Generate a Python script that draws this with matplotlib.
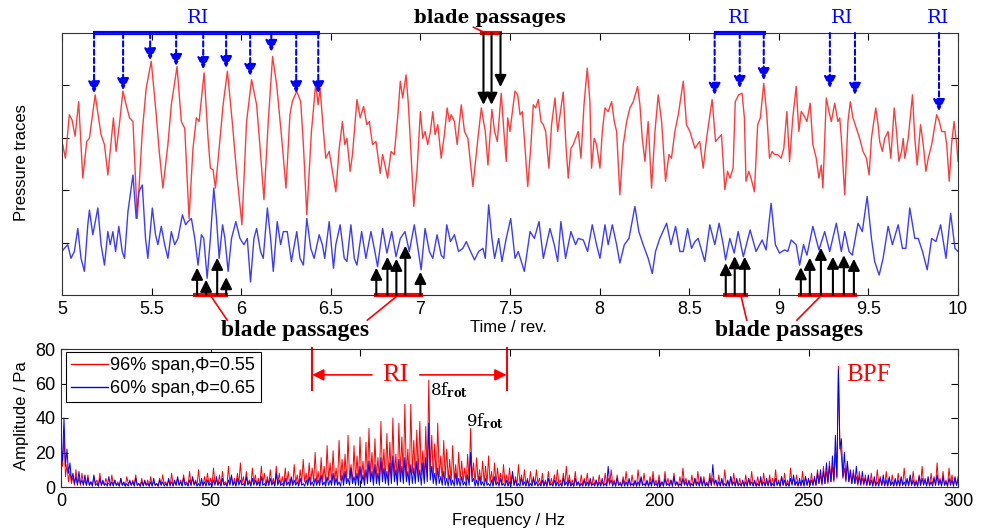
import numpy as np
import matplotlib
matplotlib.use('Agg')
import matplotlib.pyplot as plt

# ---------------- datos: trazas de presion (t en rev, presion en unidades arbitrarias) ----------------
red_trace = [
    (5.004, 2.87), (5.019, 2.61), (5.041, 3.44), (5.056, 3.34), (5.073, 3.03), (5.093, 3.69), (5.116, 2.23),
    (5.138, 2.93), (5.153, 2.99), (5.185, 3.82), (5.218, 3.06), (5.237, 2.87), (5.256, 2.29), (5.287, 3.38),
    (5.302, 2.74), (5.321, 3.28), (5.340, 3.89), (5.358, 3.63), (5.377, 3.38), (5.396, 3.31), (5.420, 1.46),
    (5.448, 3.12), (5.470, 3.95), (5.498, 4.46), (5.526, 3.44), (5.541, 2.80), (5.563, 2.04), (5.591, 2.87),
    (5.610, 3.63), (5.642, 4.36), (5.666, 3.31), (5.685, 3.18), (5.709, 1.46), (5.731, 2.80), (5.750, 3.38),
    (5.765, 3.31), (5.793, 4.24), (5.815, 2.99), (5.828, 2.42), (5.843, 2.39), (5.856, 2.04), (5.877, 2.80),
    (5.899, 3.63), (5.923, 4.27), (5.950, 3.31), (5.974, 2.36), (6.004, 1.34), (6.030, 3.31), (6.058, 4.11),
    (6.086, 3.63), (6.104, 2.87), (6.127, 1.82), (6.151, 3.31), (6.175, 4.55), (6.198, 4.01), (6.226, 2.99),
    (6.250, 2.04), (6.272, 3.44),
    (6.285, 3.69), (6.310, 3.89), (6.332, 3.69), (6.347, 2.87), (6.366, 1.53), (6.392, 3.12), (6.416, 4.04),
    (6.429, 3.63), (6.440, 3.95), (6.459, 3.12), (6.472, 2.61), (6.491, 2.74), (6.500, 2.55), (6.528, 1.97),
    (6.547, 2.80), (6.565, 3.31), (6.578, 2.87), (6.590, 2.99), (6.608, 2.36), (6.621, 2.68), (6.646, 3.73),
    (6.664, 3.38), (6.683, 3.60), (6.701, 3.25), (6.715, 3.31), (6.733, 2.87), (6.752, 2.93), (6.776, 2.32),
    (6.789, 2.68), (6.802, 2.48), (6.817, 2.23), (6.836, 2.74), (6.854, 2.68), (6.873, 3.38), (6.888, 4.08),
    (6.901, 3.76), (6.920, 4.20), (6.933, 3.63), (6.948, 2.68), (6.963, 1.69), (6.981, 2.36), (7.000, 3.50),
    (7.013, 2.99), (7.026, 3.12), (7.041, 2.87), (7.056, 3.12), (7.069, 3.50), (7.082, 3.06), (7.097, 3.25),
    (7.116, 2.61), (7.134, 3.06), (7.149, 3.57), (7.162, 3.31), (7.172, 3.44), (7.190, 3.31), (7.205, 2.87),
    (7.228, 3.63), (7.246, 3.12), (7.265, 2.99), (7.293, 2.07), (7.321, 2.99), (7.340, 3.57), (7.362, 3.12),
    (7.377, 2.48), (7.399, 3.54), (7.414, 3.12), (7.429, 2.93), (7.451, 3.85), (7.466, 3.12), (7.479, 2.55),
    (7.487, 3.38), (7.500, 3.12), (7.509, 3.38), (7.528, 3.89), (7.543, 3.82), (7.556, 3.44), (7.569, 3.50),
    (7.580, 2.99), (7.599, 2.07), (7.617, 2.87), (7.630, 3.63), (7.643, 3.57), (7.658, 3.73), (7.673, 3.31),
    (7.686, 3.25), (7.699, 3.12), (7.717, 2.42), (7.732, 3.25), (7.751, 3.76), (7.766, 3.12), (7.779, 3.44),
    (7.797, 3.87), (7.812, 2.87), (7.825, 2.23), (7.840, 2.80), (7.853, 2.87), (7.866, 2.99), (7.881, 3.12),
    (7.896, 2.61), (7.913, 3.63), (7.931, 4.33), (7.946, 3.69), (7.955, 2.42), (7.970, 2.99), (7.983, 2.87),
    (8.002, 2.42), (8.015, 3.12), (8.030, 3.57), (8.048, 3.50), (8.067, 3.69), (8.082, 3.31), (8.095, 3.12),
    (8.113, 1.91), (8.132, 2.87), (8.151, 3.31), (8.169, 3.57), (8.188, 3.69), (8.212, 3.98), (8.225, 3.63),
    (8.238, 2.99), (8.253, 2.55), (8.271, 3.31), (8.290, 2.04), (8.309, 3.12), (8.327, 3.82), (8.346, 3.31),
    (8.368, 2.17), (8.387, 2.68), (8.401, 2.61), (8.420, 3.12), (8.439, 3.44), (8.467, 4.08), (8.485, 3.25),
    (8.504, 3.12), (8.532, 2.80), (8.546, 2.87), (8.559, 2.93), (8.578, 2.42), (8.597, 2.99), (8.628, 3.73),
    (8.647, 2.93), (8.662, 2.99), (8.680, 3.06), (8.699, 2.01), (8.714, 2.36), (8.727, 2.23), (8.745, 2.42),
    (8.757, 3.69), (8.776, 3.82), (8.795, 3.85), (8.808, 3.38), (8.817, 2.17), (8.832, 2.36), (8.845, 2.23),
    (8.864, 1.97), (8.882, 3.25), (8.897, 3.38), (8.916, 4.04), (8.933, 3.44), (8.948, 2.61), (8.963, 2.74),
    (8.976, 2.68), (8.994, 2.68), (9.013, 2.61), (9.028, 2.80), (9.045, 3.50), (9.060, 2.55), (9.078, 3.38),
    (9.097, 3.98), (9.112, 3.12), (9.125, 3.50), (9.138, 3.44), (9.157, 3.31), (9.175, 3.66), (9.190, 2.87),
    (9.209, 2.61), (9.224, 2.23), (9.237, 2.48), (9.246, 2.04), (9.265, 3.76), (9.280, 3.50), (9.293, 3.31),
    (9.312, 3.66), (9.330, 3.31), (9.340, 3.38), (9.349, 2.99), (9.368, 1.91), (9.386, 3.31), (9.399, 3.69),
    (9.414, 3.38), (9.433, 3.18), (9.451, 2.99), (9.470, 2.74), (9.489, 2.61), (9.504, 2.29), (9.517, 2.99),
    (9.541, 3.57), (9.554, 3.25), (9.563, 2.93), (9.578, 2.74), (9.591, 2.99), (9.610, 3.12), (9.625, 2.61),
    (9.644, 3.57), (9.657, 3.12), (9.670, 2.55), (9.685, 2.74), (9.694, 2.99), (9.703, 2.61), (9.722, 2.99),
    (9.746, 3.82), (9.759, 2.99), (9.772, 2.48), (9.791, 3.25), (9.806, 2.87), (9.821, 2.36), (9.834, 2.61),
    (9.853, 2.87), (9.881, 3.44), (9.896, 3.31), (9.909, 3.12), (9.927, 3.12), (9.937, 2.87), (9.951, 2.17),
    (9.964, 2.87), (9.978, 3.31), (9.993, 2.87), (10.0, 2.55),
]

blue_trace = [
    (5.000, 0.83), (5.013, 0.89), (5.032, 0.96), (5.050, 0.70), (5.069, 0.83), (5.088, 1.27), (5.106, 0.70),
    (5.125, 0.45), (5.144, 1.34), (5.153, 1.62), (5.172, 1.15), (5.200, 1.66), (5.218, 0.96), (5.237, 0.57),
    (5.256, 1.21), (5.269, 0.96), (5.284, 1.21), (5.299, 0.83), (5.317, 1.31), (5.336, 0.83), (5.349, 0.70),
    (5.368, 1.59), (5.396, 2.29), (5.414, 1.46), (5.429, 1.97), (5.448, 2.10), (5.466, 1.08), (5.479, 0.70),
    (5.504, 1.66), (5.522, 1.15), (5.535, 0.96), (5.554, 1.31), (5.573, 0.96), (5.591, 0.70), (5.610, 1.21),
    (5.629, 0.96), (5.647, 1.08), (5.672, 1.53), (5.690, 1.34), (5.703, 1.40), (5.722, 1.46), (5.741, 1.08),
    (5.759, 0.57), (5.778, 1.15), (5.791, 1.08), (5.810, 0.32), (5.828, 1.08), (5.847, 2.04), (5.862, 1.46),
    (5.877, 0.70), (5.896, 1.34), (5.909, 1.08), (5.927, 0.45), (5.946, 1.08), (5.970, 1.40), (5.993, 1.08),
    (6.015, 0.96), (6.034, 1.08), (6.052, 0.25), (6.071, 1.08), (6.086, 1.27), (6.108, 0.83), (6.123, 0.70),
    (6.146, 1.66), (6.164, 1.08), (6.179, 0.45), (6.201, 1.40), (6.220, 0.96), (6.235, 1.21), (6.257, 1.21),
    (6.272, 0.83),
    (6.280, 0.64), (6.310, 1.21), (6.328, 0.70), (6.347, 0.57), (6.366, 1.46), (6.388, 0.89), (6.407, 0.70),
    (6.435, 1.15), (6.453, 0.96), (6.466, 0.70), (6.491, 1.40), (6.515, 0.51), (6.528, 0.96), (6.552, 1.34),
    (6.575, 0.70), (6.590, 0.64), (6.612, 1.34), (6.631, 0.70), (6.646, 0.57), (6.672, 1.21), (6.696, 0.70),
    (6.724, 1.21), (6.746, 0.83), (6.761, 0.54), (6.789, 1.27), (6.813, 0.80), (6.840, 1.21), (6.864, 0.73),
    (6.888, 1.08), (6.914, 1.21), (6.938, 0.83), (6.966, 1.34), (6.989, 0.83), (7.004, 0.48), (7.026, 1.27),
    (7.050, 0.83), (7.069, 0.70), (7.093, 1.15), (7.116, 0.76), (7.131, 0.70), (7.147, 1.34), (7.168, 1.02),
    (7.190, 1.15), (7.213, 0.83), (7.237, 0.89), (7.256, 1.02), (7.280, 0.83), (7.302, 0.67), (7.325, 0.83),
    (7.349, 0.89), (7.362, 0.70), (7.381, 1.72), (7.399, 1.08), (7.414, 0.70), (7.437, 1.08), (7.455, 0.64),
    (7.479, 1.08), (7.504, 1.46),
    (7.528, 0.70), (7.546, 0.83), (7.580, 0.45), (7.612, 1.21), (7.636, 1.08), (7.662, 1.40), (7.686, 0.70),
    (7.723, 1.27), (7.747, 0.96), (7.766, 0.64), (7.784, 1.40), (7.810, 0.70), (7.840, 1.21), (7.866, 0.96),
    (7.881, 1.08), (7.909, 1.05), (7.933, 0.83), (7.959, 1.34), (7.983, 0.96), (8.002, 0.70), (8.030, 1.34),
    (8.048, 0.96), (8.071, 1.34), (8.095, 0.96), (8.113, 0.61), (8.138, 0.96), (8.164, 1.08), (8.197, 1.69),
    (8.219, 1.21), (8.243, 0.96), (8.271, 0.70), (8.294, 0.41), (8.312, 0.83), (8.336, 1.08), (8.374, 1.37),
    (8.398, 0.96), (8.424, 1.31), (8.448, 0.83), (8.467, 0.83), (8.491, 1.27), (8.513, 0.89), (8.532, 1.02),
    (8.550, 1.08), (8.587, 0.64), (8.615, 1.34), (8.643, 0.96), (8.667, 1.37), (8.690, 0.96), (8.703, 0.67),
    (8.727, 1.08), (8.751, 0.80), (8.773, 1.21),
    (8.802, 0.73), (8.840, 1.24), (8.873, 0.83), (8.907, 1.05), (8.929, 0.86), (8.957, 1.75), (8.981, 0.96),
    (9.004, 0.80), (9.032, 0.86), (9.050, 0.83), (9.069, 1.05), (9.097, 0.96), (9.116, 0.57), (9.138, 0.96),
    (9.157, 0.76), (9.190, 1.31), (9.224, 0.86), (9.256, 1.21), (9.284, 0.83), (9.321, 1.37), (9.349, 0.83),
    (9.368, 1.21), (9.392, 0.83), (9.410, 0.76), (9.442, 1.37), (9.466, 1.21), (9.493, 1.88), (9.517, 1.08),
    (9.535, 0.64), (9.560, 0.38), (9.582, 0.70), (9.610, 1.31), (9.634, 0.96), (9.666, 1.34), (9.690, 0.89),
    (9.709, 0.89), (9.731, 1.66), (9.759, 1.08), (9.778, 1.08), (9.802, 0.83), (9.828, 0.48), (9.853, 1.08),
    (9.877, 1.02), (9.903, 1.34), (9.933, 0.70), (9.959, 1.56), (9.983, 0.89), (10.0, 0.83),
]

# flechas RI (t, punta) y barras "blade passages"
ri_arrows = [(5.179, 3.85), (5.341, 3.91), (5.492, 4.48), (5.637, 4.37), (5.788, 4.31), (5.916, 4.33),
             (6.050, 4.18), (6.168, 4.64), (6.307, 3.85), (6.430, 3.85),
             (8.642, 3.82), (8.782, 3.95), (8.916, 4.10), (9.285, 3.95), (9.425, 3.82), (9.894, 3.51)]
ri_brackets = [(5.173, 6.441), (8.637, 8.927)]
ri_labels = [5.76, 8.777, 9.352, 9.888]

top_bp_arrows = [(7.352, 3.63), (7.397, 3.63), (7.447, 3.97)]
top_bp_bar = (7.330, 7.458)
bottom_bp_arrows = [(5.754, 0.52), (5.804, 0.29), (5.866, 0.71), (5.916, 0.34),
                    (6.754, 0.52), (6.816, 0.73), (6.866, 0.69), (6.916, 0.94), (7.000, 0.44),
                    (8.704, 0.61), (8.754, 0.74), (8.810, 0.73),
                    (9.123, 0.53), (9.173, 0.71), (9.235, 0.90), (9.302, 0.73), (9.363, 0.76), (9.419, 0.69)]
bottom_bp_bars = [(5.732, 5.927), (6.743, 7.017), (8.687, 8.827), (9.106, 9.436)]

# ---------------- datos: espectro (maximo y minimo en cada 1 Hz) ----------------
freq = np.arange(0, 301)
amp_96_max = [
    20, 30, 13, 9, 6, 10, 5, 8, 4, 7,
    3, 6, 4, 8, 3, 5, 2, 7, 4, 3,
    5, 2, 6, 3, 4, 7, 2, 5, 3, 4,
    6, 3, 2, 5, 7, 3, 4, 8, 3, 5,
    4, 7, 3, 9, 5, 4, 10, 3, 6, 8,
    5, 11, 4, 7, 9, 3, 12, 6, 5, 8,
    14, 6, 9, 4, 11, 7, 5, 12, 8, 6,
    10, 5, 12, 8, 6, 11, 9, 5, 13, 7,
    10, 16, 8, 14, 11, 20, 9, 17, 12, 24,
    14, 21, 11, 27, 16, 19, 30, 13, 24, 18,
    29, 15, 26, 34, 20, 28, 17, 38, 22, 31,
    26, 40, 19, 37, 29, 48, 22, 48, 27, 33,
    38, 21, 35, 62, 30, 25, 37, 18, 27, 22,
    16, 24, 13, 20, 15, 11, 19, 34, 14, 17,
    10, 15, 12, 18, 9, 14, 11, 8, 13, 7,
    11, 8, 6, 13, 7, 10, 5, 9, 6, 10,
    5, 8, 4, 9, 5, 7, 10, 4, 8, 12,
    7, 4, 9, 3, 7, 5, 8, 3, 6, 4,
    7, 3, 8, 5, 10, 4, 7, 3, 6, 9,
    4, 7, 3, 10, 5, 8, 3, 6, 9, 4,
    7, 3, 9, 5, 4, 8, 3, 6, 11, 5,
    3, 7, 5, 9, 4, 6, 3, 8, 5, 4,
    7, 4, 10, 3, 6, 8, 4, 5, 3, 7,
    5, 9, 3, 6, 4, 8, 3, 7, 5, 10,
    4, 6, 8, 4, 11, 5, 7, 3, 9, 6,
    4, 8, 5, 10, 7, 12, 9, 15, 12, 20,
    70, 18, 11, 14, 8, 10, 6, 9, 5, 7,
    5, 8, 4, 10, 6, 4, 9, 5, 7, 4,
    8, 5, 11, 4, 6, 9, 4, 7, 12, 5,
    4, 8, 6, 14, 5, 9, 4, 11, 7, 5,
    6,
]
amp_96_min = [
    12, 6, 3, 2, 1, 2, 1, 2, 1, 1,
    1, 2, 0.5, 1, 1, 2, 0.5, 1, 1, 0.5,
    1, 0.5, 2, 1, 1, 1, 0.5, 1, 1, 0.5,
    1, 1, 0.5, 1, 2, 1, 0.5, 1, 1, 1,
    1, 2, 1, 1, 2, 1, 1, 0.5, 2, 1,
    1, 2, 1, 1, 2, 0.5, 2, 1, 1, 2,
    2, 1, 2, 1, 2, 1, 1, 2, 1, 1,
    2, 1, 2, 1, 1, 2, 1, 1, 2, 1,
    2, 3, 1, 2, 3, 2, 1, 3, 2, 4,
    2, 3, 2, 4, 3, 2, 5, 2, 4, 3,
    5, 3, 4, 6, 3, 5, 4, 7, 3, 5,
    4, 6, 3, 7, 5, 6, 4, 8, 5, 6,
    7, 4, 6, 9, 5, 4, 6, 3, 5, 4,
    3, 4, 2, 4, 3, 2, 3, 5, 2, 3,
    2, 3, 2, 3, 1, 2, 2, 1, 2, 1,
    2, 1, 1, 2, 1, 1, 0.5, 1, 1, 2,
    1, 1, 0.5, 1, 1, 1, 2, 0.5, 1, 1,
    1, 0.5, 1, 0.5, 1, 1, 1, 0.5, 1, 0.5,
    1, 0.5, 1, 1, 2, 0.5, 1, 0.5, 1, 1,
    0.5, 1, 0.5, 2, 1, 1, 0.5, 1, 1, 0.5,
    1, 0.5, 1, 1, 0.5, 1, 0.5, 1, 2, 1,
    0.5, 1, 1, 1, 0.5, 1, 0.5, 1, 1, 0.5,
    1, 0.5, 1, 0.5, 1, 1, 0.5, 1, 0.5, 1,
    1, 1, 0.5, 1, 0.5, 1, 0.5, 1, 1, 1,
    0.5, 1, 1, 0.5, 2, 1, 1, 0.5, 1, 1,
    1, 1, 1, 2, 1, 2, 2, 3, 3, 5,
    25, 5, 3, 3, 2, 2, 1, 2, 1, 1,
    1, 1, 0.5, 2, 1, 0.5, 1, 1, 1, 0.5,
    1, 1, 2, 0.5, 1, 1, 0.5, 1, 2, 1,
    0.5, 1, 1, 2, 1, 1, 0.5, 2, 1, 1,
    1,
]
amp_60_max = [
    25, 40, 22, 14, 8, 6, 9, 4, 7, 5,
    3, 7, 2, 5, 4, 2, 6, 3, 4, 2,
    5, 3, 2, 4, 3, 5, 2, 3, 4, 2,
    3, 5, 2, 4, 3, 2, 5, 3, 4, 6,
    3, 5, 2, 4, 6, 3, 2, 5, 3, 4,
    2, 4, 6, 3, 5, 2, 4, 7, 3, 5,
    4, 2, 6, 3, 5, 4, 3, 6, 2, 4,
    5, 3, 8, 4, 2, 5, 3, 6, 4, 3,
    5, 2, 4, 6, 3, 5, 4, 7, 3, 6,
    4, 8, 5, 3, 7, 9, 5, 11, 6, 8,
    12, 7, 10, 15, 9, 13, 8, 17, 11, 9,
    14, 18, 10, 16, 12, 17, 9, 13, 11, 15,
    10, 14, 17, 37, 12, 8, 11, 6, 9, 5,
    7, 4, 8, 5, 6, 3, 7, 20, 5, 4,
    6, 3, 5, 2, 4, 6, 3, 5, 2, 4,
    3, 9, 4, 2, 5, 3, 4, 2, 5, 3,
    2, 4, 3, 5, 2, 4, 3, 2, 5, 3,
    4, 2, 5, 3, 2, 4, 3, 5, 2, 4,
    3, 5, 2, 12, 4, 3, 5, 2, 4, 3,
    5, 2, 4, 3, 6, 2, 4, 3, 5, 2,
    4, 3, 5, 2, 4, 6, 3, 2, 5, 3,
    4, 2, 5, 3, 6, 4, 2, 5, 13, 4,
    3, 5, 2, 4, 6, 3, 5, 2, 4, 3,
    5, 3, 4, 2, 6, 3, 5, 4, 2, 5,
    3, 6, 4, 2, 5, 7, 3, 5, 4, 6,
    5, 4, 6, 8, 10, 9, 14, 12, 18, 30,
    68, 28, 20, 15, 10, 8, 12, 6, 9, 5,
    7, 4, 6, 3, 5, 7, 4, 6, 3, 5,
    4, 6, 3, 5, 7, 4, 3, 6, 5, 4,
    6, 3, 5, 7, 4, 6, 3, 5, 4, 6,
    4,
]
amp_60_min = [
    15, 12, 8, 4, 2, 1, 2, 1, 1, 1,
    0.5, 1, 0.5, 1, 1, 0.5, 1, 0.5, 1, 0.5,
    1, 0.5, 0.5, 1, 0.5, 1, 0.5, 0.5, 1, 0.5,
    0.5, 1, 0.5, 1, 0.5, 0.5, 1, 0.5, 1, 1,
    0.5, 1, 0.5, 1, 1, 0.5, 0.5, 1, 0.5, 1,
    0.5, 1, 1, 0.5, 1, 0.5, 1, 1, 0.5, 1,
    1, 0.5, 1, 0.5, 1, 1, 0.5, 1, 0.5, 1,
    1, 0.5, 1, 1, 0.5, 1, 0.5, 1, 1, 0.5,
    1, 0.5, 1, 1, 0.5, 1, 1, 1, 0.5, 1,
    1, 1, 1, 0.5, 1, 2, 1, 2, 1, 1,
    2, 1, 2, 3, 1, 2, 1, 3, 2, 1,
    2, 3, 1, 3, 2, 3, 1, 2, 2, 3,
    1, 2, 3, 4, 2, 1, 2, 1, 1, 0.5,
    1, 0.5, 1, 0.5, 1, 0.5, 1, 3, 0.5, 0.5,
    1, 0.5, 1, 0.5, 0.5, 1, 0.5, 1, 0.5, 0.5,
    0.5, 1, 0.5, 0.5, 1, 0.5, 0.5, 0.5, 1, 0.5,
    0.5, 0.5, 0.5, 1, 0.5, 0.5, 0.5, 0.5, 1, 0.5,
    0.5, 0.5, 1, 0.5, 0.5, 0.5, 0.5, 1, 0.5, 0.5,
    0.5, 1, 0.5, 2, 0.5, 0.5, 1, 0.5, 0.5, 0.5,
    1, 0.5, 0.5, 0.5, 1, 0.5, 0.5, 0.5, 1, 0.5,
    0.5, 0.5, 1, 0.5, 0.5, 1, 0.5, 0.5, 1, 0.5,
    0.5, 0.5, 1, 0.5, 1, 0.5, 0.5, 1, 2, 0.5,
    0.5, 1, 0.5, 0.5, 1, 0.5, 1, 0.5, 0.5, 0.5,
    1, 0.5, 0.5, 0.5, 1, 0.5, 1, 0.5, 0.5, 1,
    0.5, 1, 0.5, 0.5, 1, 1, 0.5, 1, 0.5, 1,
    1, 1, 1, 2, 2, 2, 3, 3, 4, 6,
    22, 6, 4, 3, 2, 2, 2, 1, 2, 1,
    1, 0.5, 1, 0.5, 1, 1, 0.5, 1, 0.5, 1,
    0.5, 1, 0.5, 1, 1, 0.5, 0.5, 1, 1, 0.5,
    1, 0.5, 1, 1, 0.5, 1, 0.5, 1, 0.5, 1,
    0.5,
]


def zigzag(f, hi, lo):
    # maximo en f, minimo medio Hz despues
    fx = np.column_stack([f, f + 0.5]).ravel()
    ay = np.column_stack([hi, lo]).ravel()
    return fx[:-1], ay[:-1]


# ---------------- figura ----------------
plt.rcParams['mathtext.fontset'] = 'dejavuserif'
W, H = 983, 531
fig = plt.figure(figsize=(W / 100, H / 100), dpi=100)
ax1 = fig.add_axes([62 / W, 1 - 295 / H, 896 / W, 262 / H])
ax2 = fig.add_axes([61 / W, 1 - 487 / H, 897 / W, 138 / H])

for ax in (ax1, ax2):
    ax.tick_params(direction='in', top=True, right=True, length=5, width=0.8, pad=4,
                   labelsize=13, colors='black')
    for s in ax.spines.values():
        s.set_linewidth(0.8)
        s.set_color('#333333')

# trazas
rt, rp = zip(*red_trace)
bt, bp = zip(*blue_trace)
ax1.plot(rt, rp, color='#ff3c3c', lw=1.0)
ax1.plot(bt, bp, color='#3c3cff', lw=1.0)
ax1.set_xlim(5, 10)
ax1.set_ylim(0, 5)
ax1.set_xticks(np.arange(5, 10.01, 0.5))
ax1.set_xticklabels(['%g' % v for v in np.arange(5, 10.01, 0.5)])
ax1.set_yticks([1, 2, 3, 4])
ax1.set_yticklabels([])

arrow_style = '-|>,head_length=0.7,head_width=0.35'


def flecha(ax, x, y0, y1, color, ls='-'):
    ax.annotate('', xy=(x, y1), xytext=(x, y0), annotation_clip=False,
                arrowprops=dict(arrowstyle=arrow_style, color=color, lw=1.5, linestyle=ls,
                                shrinkA=0, shrinkB=0))


for t, tip in ri_arrows:
    flecha(ax1, t, 5.0, tip, 'blue', ls=(0, (2.5, 1.5)))
for a, b in ri_brackets:
    ax1.plot([a, b], [5.0, 5.0], color='blue', lw=3, clip_on=False, solid_capstyle='butt')
for t in ri_labels:
    ax1.text(t, 5.28, 'RI', color='blue', ha='center', va='center', fontsize=14,
             family='DejaVu Serif', clip_on=False)

for t, tip in top_bp_arrows:
    flecha(ax1, t, 5.0, tip, 'black')
ax1.plot(top_bp_bar, [5.0, 5.0], color='red', lw=3, clip_on=False, solid_capstyle='butt')
ax1.plot([7.296, 7.363], [5.11, 5.0], color='red', lw=1.2, clip_on=False)
ax1.text(7.39, 5.28, 'blade passages', ha='center', va='center', fontsize=13,
         family='DejaVu Serif', fontweight='bold', clip_on=False)

for t, tip in bottom_bp_arrows:
    flecha(ax1, t, 0.0, tip, 'black')
for a, b in bottom_bp_bars:
    ax1.plot([a, b], [0.0, 0.0], color='red', lw=3, clip_on=False, solid_capstyle='butt')
for (x0, x1) in [(5.827, 5.922), (6.877, 6.704), (8.788, 8.821), (9.240, 9.101)]:
    ax1.plot([x0, x1], [0.0, -0.48], color='red', lw=1.2, clip_on=False)
for t in (6.30, 9.06):
    ax1.text(t, -0.67, 'blade passages', ha='center', va='center', fontsize=17,
             family='Liberation Serif', fontweight='bold', clip_on=False)

fig.text(22 / W, 1 - 163 / H, 'Pressure traces', rotation=90, ha='center', va='center',
         fontsize=12, family='Liberation Sans')
fig.text(508 / W, 1 - 327 / H, 'Time / rev.', ha='center', va='center',
         fontsize=12, family='Liberation Sans')

# espectro
fr, ar = zigzag(freq, amp_96_max, amp_96_min)
fb, ab = zigzag(freq, amp_60_max, amp_60_min)
ax2.plot(fr, ar, color='red', lw=0.7, label='96% span,\u03a6=0.55')
ax2.plot(fb, ab, color='blue', lw=0.7, label='60% span,\u03a6=0.65')
ax2.set_xlim(0, 300)
ax2.set_ylim(0, 80)
ax2.set_xticks(np.arange(0, 301, 50))
ax2.set_yticks(np.arange(0, 81, 20))

for ax in (ax1, ax2):
    for lab in ax.get_xticklabels() + ax.get_yticklabels():
        lab.set_family('Liberation Sans')

leg = ax2.legend(loc='upper left', bbox_to_anchor=(0.0056, 0.978), borderaxespad=0,
                 fancybox=False, framealpha=1, edgecolor='black', handlelength=2.0,
                 handletextpad=0.15, labelspacing=0.3, borderpad=0.3,
                 prop=dict(family='Liberation Sans', size=13))
leg.get_frame().set_linewidth(0.8)
for line in leg.get_lines():
    line.set_linewidth(1.0)

# anotaciones RI / BPF
ri_band = (84, 149)
for f in ri_band:
    ax2.plot([f, f], [56, 80.5], color='red', lw=1.5, clip_on=False)
ax2.annotate('', xy=(ri_band[0], 65), xytext=(104, 65), annotation_clip=False,
             arrowprops=dict(arrowstyle=arrow_style, color='red', lw=1.2, shrinkA=0, shrinkB=0))
ax2.annotate('', xy=(ri_band[1], 65), xytext=(120, 65), annotation_clip=False,
             arrowprops=dict(arrowstyle=arrow_style, color='red', lw=1.2, shrinkA=0, shrinkB=0))
ax2.text(112, 65, 'RI', color='red', ha='center', va='center', fontsize=19, family='Liberation Serif')
ax2.text(123.5, 56, '8f$_{\\mathbf{rot}}$', ha='left', va='center', fontsize=12, family='DejaVu Serif')
ax2.text(135.5, 38, '9f$_{\\mathbf{rot}}$', ha='left', va='center', fontsize=12, family='DejaVu Serif')
ax2.text(262.5, 65, 'BPF', color='red', ha='left', va='center', fontsize=18, family='Liberation Serif')

fig.text(22 / W, 1 - 416 / H, 'Amplitude / Pa', rotation=90, ha='center', va='center',
         fontsize=12, family='Liberation Sans')
fig.text(509 / W, 1 - 520 / H, 'Frequency / Hz', ha='center', va='center',
         fontsize=12, family='Liberation Sans')

fig.savefig('out.png', dpi=100)
